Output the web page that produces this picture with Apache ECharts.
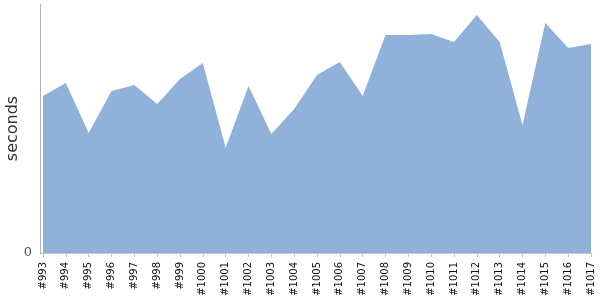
<!DOCTYPE html>
<html>
<head>
<meta charset="utf-8">
<script src="https://cdn.jsdelivr.net/npm/echarts@6/dist/echarts.min.js"></script>
<style>
  html, body { margin: 0; padding: 0; background: #fff; }
  #chart { width: 600px; height: 300px; }
</style>
</head>
<body>
<div id="chart"></div>
<script>
// build names and durations
const builds = ['#993', '#994', '#995', '#996', '#997', '#998', '#999', '#1000', '#1001', '#1002',
  '#1003', '#1004', '#1005', '#1006', '#1007', '#1008', '#1009', '#1010', '#1011', '#1012',
  '#1013', '#1014', '#1015', '#1016', '#1017'];
const durations = [157, 170, 120, 162, 168, 149, 174, 190, 105, 167,
  119, 144, 178, 191, 157, 218, 218, 219, 211, 238,
  211, 128, 230, 205, 209];
const yTicks = [0];
const yMax = 249;

let myChart = echarts.init(document.getElementById('chart'));

let option = {
  animation: false,
  grid: { left: 43, right: 9, top: 4, bottom: 47, outerBoundsMode: 'none', containLabel: false },
  xAxis: {
    type: 'category',
    boundaryGap: false,
    data: builds,
    offset: 3,
    axisLine: { lineStyle: { color: '#c8c8c8', width: 1 } },
    axisTick: { alignWithLabel: true, length: 4, lineStyle: { color: '#c8c8c8' } },
    axisLabel: {
      rotate: 90,
      interval: 0,
      fontSize: 10,
      color: '#111',
      fontFamily: 'DejaVu Sans',
      margin: 6
    }
  },
  yAxis: {
    type: 'value',
    min: 0,
    max: yMax,
    offset: 3,
    name: 'seconds',
    nameLocation: 'middle',
    nameGap: 19,
    nameMoveOverlap: false,
    nameTextStyle: { fontSize: 16, color: '#333', fontFamily: 'DejaVu Sans' },
    axisLine: { show: true, lineStyle: { color: '#b0b0b0' } },
    axisTick: { show: true, inside: true, length: 3, customValues: yTicks, lineStyle: { color: '#b0b0b0' } },
    splitLine: { show: false },
    axisLabel: {
      customValues: yTicks,
      color: '#555',
      fontSize: 13,
      fontFamily: 'DejaVu Sans',
      margin: 8
    }
  },
  series: [{
    type: 'line',
    data: durations,
    symbol: 'none',
    lineStyle: { width: 0 },
    areaStyle: { color: '#8fb1da', opacity: 1 }
  }]
};

myChart.setOption(option);
</script>
</body>
</html>
